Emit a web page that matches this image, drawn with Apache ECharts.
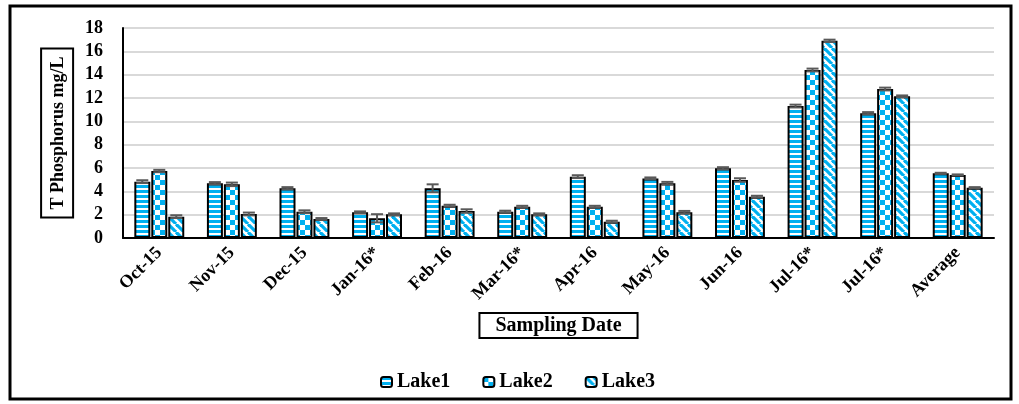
<!DOCTYPE html>
<html>
<head>
<meta charset="utf-8">
<script src="https://cdn.jsdelivr.net/npm/echarts@6/dist/echarts.min.js"></script>
<style>html,body{margin:0;padding:0;background:#fff}#c{width:1019px;height:404px}</style>
</head>
<body>
<div id="c"></div>
<script>
const categories = ['Oct-15','Nov-15','Dec-15','Jan-16*','Feb-16','Mar-16*','Apr-16','May-16','Jun-16','Jul-16*','Jul-16*','Average'];
const lake1 = [4.83, 4.69, 4.26, 2.20, 4.26, 2.26, 5.26, 5.11, 5.97, 11.31, 10.69, 5.54];
const lake2 = [5.74, 4.60, 2.25, 1.69, 2.77, 2.68, 2.68, 4.69, 4.97, 14.40, 12.77, 5.40];
const lake3 = [1.83, 2.06, 1.63, 2.03, 2.31, 2.03, 1.40, 2.20, 3.54, 16.90, 12.14, 4.31];
const err1 = [0.12, 0.10, 0.10, 0.08, 0.34, 0.08, 0.12, 0.08, 0.10, 0.12, 0.10, 0.05];
const err2 = [0.10, 0.15, 0.12, 0.35, 0.08, 0.08, 0.08, 0.12, 0.15, 0.12, 0.12, 0.05];
const err3 = [0.12, 0.12, 0.08, 0.08, 0.15, 0.08, 0.08, 0.12, 0.08, 0.10, 0.08, 0.05];
const seriesNames = ['Lake1','Lake2','Lake3'];
const yTicks = {min: 0, max: 18, interval: 2};

const BLUE = '#00B0F0';
function hStripe(){
  const c = document.createElement('canvas'); c.width = 6; c.height = 5;
  const g = c.getContext('2d'); g.fillStyle = '#fff'; g.fillRect(0,0,6,5);
  g.fillStyle = BLUE; g.fillRect(0,0,6,3); return c;
}
function checker(){
  const c = document.createElement('canvas'); c.width = 10; c.height = 10;
  const g = c.getContext('2d'); g.fillStyle = '#fff'; g.fillRect(0,0,10,10);
  g.fillStyle = BLUE; g.fillRect(0,0,5,5); g.fillRect(5,5,5,5); return c;
}
function diag(){
  const s = 8;
  const c = document.createElement('canvas'); c.width = s; c.height = s;
  const g = c.getContext('2d'); g.fillStyle = '#fff'; g.fillRect(0,0,s,s);
  g.strokeStyle = BLUE; g.lineWidth = 3.2;
  for (let k = -s; k <= s; k += s) { g.beginPath(); g.moveTo(k, 0); g.lineTo(k + s, s); g.stroke(); }
  return c;
}
const patterns = [hStripe(), checker(), diag()];
const values = [lake1, lake2, lake3];
const errs = [err1, err2, err3];
const offsets = [-17, 0, 17];

const chart = echarts.init(document.getElementById('c'));
const series = [];
values.forEach((vals, k) => {
  series.push({
    name: seriesNames[k], type: 'bar', data: vals, barWidth: 16, barGap: '6%',
    itemStyle: {color: {image: patterns[k], repeat: 'repeat'}, borderColor: '#000', borderWidth: 2},
    emphasis: {disabled: true}
  });
});
values.forEach((vals, k) => {
  series.push({
    name: 'err' + k, type: 'custom', silent: true, z: 5,
    data: vals.map((v, i) => [i, v, errs[k][i]]),
    encode: {x: 0, y: 1},
    renderItem: function (params, api) {
      const i = api.value(0), v = api.value(1), e = api.value(2);
      const top = api.coord([i, v + e]); const bot = api.coord([i, v - e]);
      const x = top[0] + offsets[k];
      const st = {stroke: '#595959', lineWidth: 2};
      return {type: 'group', children: [
        {type: 'line', shape: {x1: x, y1: top[1], x2: x, y2: bot[1]}, style: st},
        {type: 'line', shape: {x1: x - 6, y1: top[1], x2: x + 6, y2: top[1]}, style: st},
        {type: 'line', shape: {x1: x - 6, y1: bot[1], x2: x + 6, y2: bot[1]}, style: st}
      ]};
    }
  });
});

const serif = 'serif';
chart.setOption({
  animation: false,
  backgroundColor: '#fff',
  grid: {left: 123, right: 25, top: 28, bottom: 166, containLabel: false},
  legend: {
    data: seriesNames, left: 375, top: 367, itemWidth: 11, itemHeight: 10, itemGap: 32,
    textStyle: {fontFamily: serif, fontWeight: 'bold', fontSize: 20, color: '#000'}
  },
  xAxis: {
    type: 'category', data: categories,
    axisLine: {lineStyle: {color: '#000', width: 2}}, axisTick: {show: false},
    axisLabel: {rotate: 45, interval: 0, fontFamily: serif, fontWeight: 'bold', fontSize: 18, color: '#000', margin: 12},
    name: 'Sampling Date', nameLocation: 'middle', nameGap: 75,
    nameTextStyle: {fontFamily: serif, fontWeight: 'bold', fontSize: 20, color: '#000',
      borderColor: '#000', borderWidth: 2, padding: [3, 16, 2, 16]}
  },
  yAxis: {
    type: 'value', min: yTicks.min, max: yTicks.max, interval: yTicks.interval,
    axisLine: {show: true, lineStyle: {color: '#000', width: 2}},
    splitLine: {lineStyle: {color: '#d9d9d9', width: 2}},
    axisLabel: {fontFamily: serif, fontWeight: 'bold', fontSize: 18, color: '#000', margin: 20},
    name: 'T Phosphorus mg/L', nameLocation: 'middle', nameRotate: 90, nameGap: 49,
    nameTextStyle: {fontFamily: serif, fontWeight: 'bold', fontSize: 18, color: '#000',
      borderColor: '#000', borderWidth: 2, padding: [8, 8, 6, 8]}
  },
  graphic: [{type: 'rect', shape: {x: 10, y: 6, width: 1001, height: 393}, style: {fill: 'none', stroke: '#000', lineWidth: 3}, silent: true}],
  series: series
});
</script>
</body>
</html>
